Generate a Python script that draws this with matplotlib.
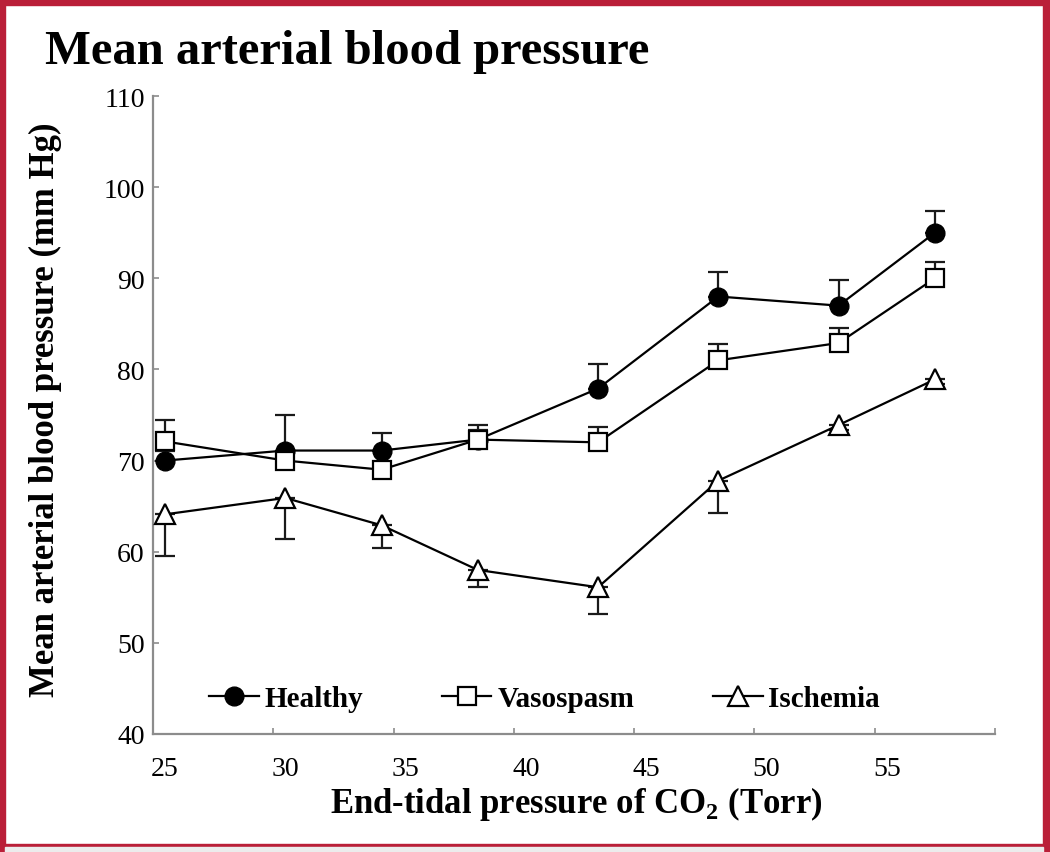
import numpy as np
import matplotlib
matplotlib.use('Agg')
import matplotlib.pyplot as plt
from matplotlib.patches import Rectangle

# values
etco2 = [25, 30, 34, 38, 43, 48, 53, 57]
healthy = [70.0, 71.1, 71.1, 72.3, 77.9, 88.0, 87.0, 95.0]
healthy_err = [1.0, 3.9, 1.9, 1.0, 2.7, 2.7, 2.8, 2.4]
vasospasm = [72.1, 70.0, 69.0, 72.3, 72.0, 81.0, 82.9, 90.0]
vasospasm_err = [2.4, 0.8, 0.8, 1.6, 1.7, 1.8, 1.6, 1.8]
ischemia = [64.1, 65.9, 62.9, 58.0, 56.1, 67.8, 73.9, 78.9]
ischemia_err = [4.6, 4.5, 2.5, 1.9, 2.9, 3.5, 0.5, 0.5]
xtick_labels = [25, 30, 35, 40, 45, 50, 55]
ytick_labels = [40, 50, 60, 70, 80, 90, 100, 110]

plt.rcParams['font.family'] = ['Liberation Serif', 'DejaVu Serif']
plt.rcParams['mathtext.fontset'] = 'custom'
plt.rcParams['mathtext.rm'] = 'Liberation Serif:bold'
plt.rcParams['mathtext.bf'] = 'Liberation Serif:bold'

red = '#BA1F38'
grey = '#8c8c8c'

fig = plt.figure(figsize=(10.5, 8.53), dpi=100)

# frame around the figure
bg = fig.add_axes([0, 0, 1, 1], zorder=-1)
bg.set_xlim(0, 1050)
bg.set_ylim(853, 0)
bg.axis('off')
bg.add_patch(Rectangle((0, 0), 1050, 6, color=red))
bg.add_patch(Rectangle((0, 0), 5, 853, color=red))
bg.add_patch(Rectangle((1043, 0), 7, 853, color=red))
bg.add_patch(Rectangle((0, 845), 1050, 3, color=red))
bg.add_patch(Rectangle((5, 848), 1038, 5, color='#ececec'))

ax = fig.add_axes([153/1050, 118/853, 842/1050, 638/853])

ax.errorbar(etco2, healthy, yerr=[np.zeros(8), healthy_err], fmt='none',
            ecolor='#1a1a1a', elinewidth=1.6, capsize=7, capthick=1.6, zorder=2)
ax.errorbar(etco2, vasospasm, yerr=[np.zeros(8), vasospasm_err], fmt='none',
            ecolor='#1a1a1a', elinewidth=1.6, capsize=7, capthick=1.6, zorder=2)
ax.errorbar(etco2, ischemia, yerr=[ischemia_err, np.zeros(8)], fmt='none',
            ecolor='#1a1a1a', elinewidth=1.6, capsize=7, capthick=1.6, zorder=2)

ax.plot(etco2, healthy, '-o', color='black', lw=1.6, ms=13.5,
        mfc='black', mec='black', label='Healthy', zorder=3)
ax.plot(etco2, vasospasm, '-s', color='black', lw=1.6, ms=13,
        mfc='white', mec='black', mew=1.6, label='Vasospasm', zorder=4)
ax.plot(etco2, ischemia, '-^', color='black', lw=1.6, ms=15,
        mfc='white', mec='black', mew=1.6, label='Ischemia', zorder=5)

ax.set_xlim(24.5, 59.5)
ax.set_ylim(40, 110)
ax.set_xticks([24.5 + 5 * k for k in range(8)])
ax.set_xticklabels([])
ax.set_xticks(xtick_labels, minor=True)
ax.set_xticklabels([str(v) for v in xtick_labels], minor=True)
ax.set_yticks(ytick_labels)
ax.set_yticklabels([str(v) for v in ytick_labels])
ax.tick_params(axis='x', which='major', direction='in', length=4, width=1.2, color=grey)
ax.tick_params(axis='x', which='minor', length=0, pad=16, labelsize=20)
ax.tick_params(axis='y', direction='in', length=4, width=1.2, color=grey, pad=6, labelsize=20)

for s in ['top', 'right']:
    ax.spines[s].set_visible(False)
for s in ['left', 'bottom']:
    ax.spines[s].set_color(grey)
    ax.spines[s].set_linewidth(1.6)

ax.set_xlabel('End-tidal pressure of CO$_2$ (Torr)', fontsize=25, fontweight='bold')
ax.xaxis.set_label_coords(0.503, -0.078)
ax.set_ylabel('Mean arterial blood pressure (mm Hg)', fontsize=25, fontweight='bold')
ax.yaxis.set_label_coords(-0.108, 0.51)

ax.legend(loc='center', bbox_to_anchor=(0.465, 0.055), ncol=3, frameon=False,
          prop={'weight': 'bold', 'size': 21}, handlelength=1.7, columnspacing=2.7,
          handletextpad=0.2)

fig.text(45/1050, 1 - 64/853, 'Mean arterial blood pressure', fontsize=35,
         fontweight='bold', ha='left', va='baseline')

fig.savefig('out.png', dpi=100)
